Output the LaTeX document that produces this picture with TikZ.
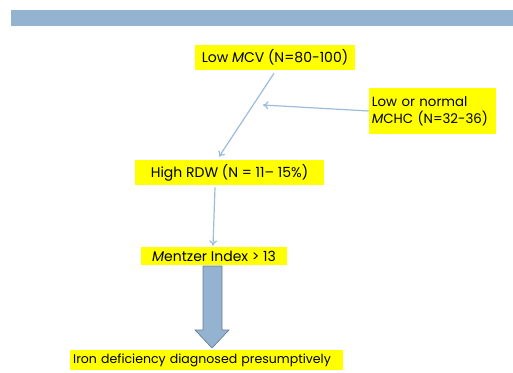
\documentclass[tikz,border=0pt]{standalone}
\usepackage{fontspec}
\setmainfont{Poppins}
\usepackage{xcolor}
\usetikzlibrary{calc,arrows.meta}

\definecolor{bandblue}{HTML}{93B3D1}
\definecolor{lineblue}{HTML}{9DBBDA}
\definecolor{hiyellow}{HTML}{FFFF00}

\tikzset{
  hibox/.style={fill=hiyellow,inner sep=0.75pt,font=\fontsize{10.5}{12.5}\selectfont},
  thinarrow/.style={draw=lineblue,line width=0.9pt,-{To[length=4pt,width=6pt]}}
}

\begin{document}
\begin{tikzpicture}[x=0.75pt,y=0.75pt,yscale=-1,xscale=1]
\useasboundingbox (0,0) rectangle (513,372);
\fill[white] (0,0) rectangle (513,372);

%Top band
\fill[bandblue] (11,10) rectangle (513,26);

% Text Node
\node[hibox,minimum width=120pt,minimum height=18.75pt] (mcv) at (275,57.5) {Low \textit{M}CV (N=80-100)};
% Text Node
\node[hibox,minimum width=95.25pt,minimum height=34.5pt,align=left,text width=91pt,font=\fontsize{10}{13}\selectfont] (mchc) at (432.5,111) {Low or normal\\\textit{M}CHC (N=32-36)};
% Text Node
\node[hibox,minimum width=141.75pt,minimum height=18.75pt] (rdw) at (229.5,172.5) {High RDW (N = 11-- 15\%)};
% Text Node
\node[hibox,minimum width=109.5pt,minimum height=13.5pt] (mentzer) at (214,256) {\textit{M}entzer Index > 13};
% Text Node
\node[hibox,minimum width=204.75pt,minimum height=15pt,align=left,text width=200pt,font=\fontsize{9.4}{11}\selectfont] (iron) at (206.5,360) {Iron deficiency diagnosed presumptively};

%Connectors
\coordinate (meet) at (263,105);
\draw[thinarrow] ($(mcv.south)+(-1,3)$) -- ($(rdw.north)+(-10.5,-3)$);
\draw[thinarrow] (mchc.west) -- (meet);
\draw[thinarrow] ($(rdw.south)+(-14.5,2)$) -- ($(mentzer.north)+(-1,-1)$);

%Block arrow
\draw[draw=bandblue!70!black,fill=bandblue,line width=0.5pt]
  (203,266) -- (222,266) -- (222,330) -- (229,330) -- (212,348) -- (195,330) -- (203,330) -- cycle;

\end{tikzpicture}
\end{document}
